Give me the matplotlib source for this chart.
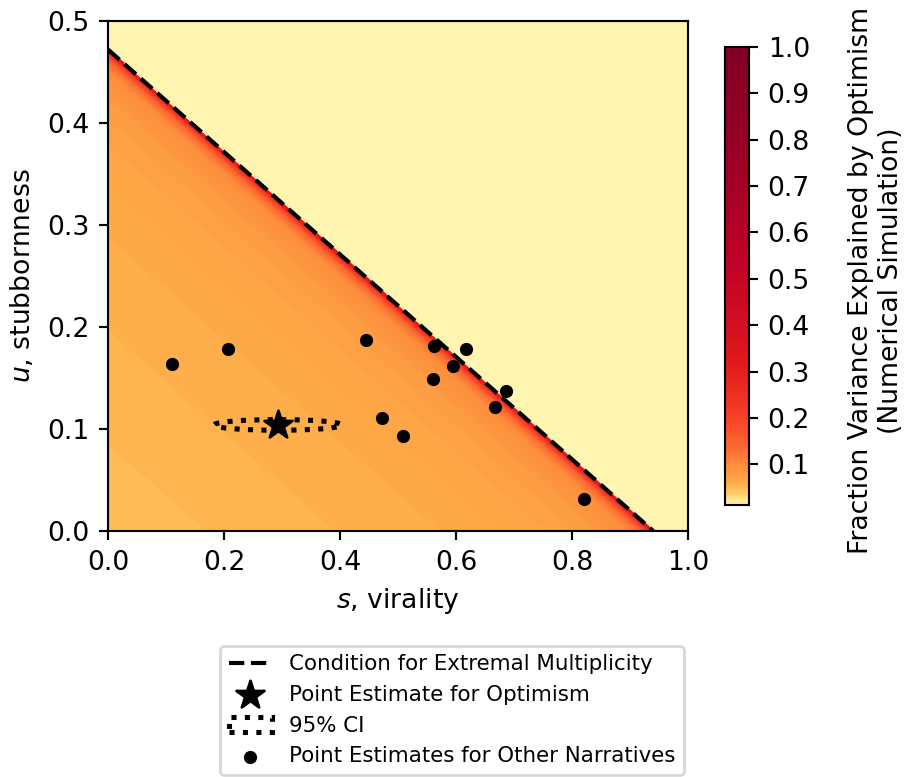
import numpy as np
import matplotlib
matplotlib.use("Agg")
import matplotlib.pyplot as plt
from matplotlib import colors
from matplotlib.patches import Ellipse

# dashed boundary (condition for extremal multiplicity)
s_intercept = 0.94
u_intercept = 0.472

# point estimate for Optimism and its 95% CI ellipse
opt_s = 0.293
opt_u = 0.104
ci_width = 0.220
ci_height = 0.0105

# point estimates for the other narratives
other_s = [0.111, 0.207, 0.445, 0.562, 0.617, 0.595, 0.560, 0.687, 0.667, 0.472, 0.509, 0.821]
other_u = [0.164, 0.178, 0.187, 0.181, 0.178, 0.162, 0.149, 0.137, 0.122, 0.111, 0.093, 0.031]

# simulated fraction of variance vs. vertical distance below the boundary
dist_knots = [0.0, 0.004, 0.01, 0.02, 0.05, 0.1, 0.2, 0.47]
frac_knots = [0.35, 0.22, 0.14, 0.10, 0.08, 0.07, 0.06, 0.048]
frac_above = 0.013

cbar_ticks = [0.1, 0.2, 0.3, 0.4, 0.5, 0.6, 0.7, 0.8, 0.9, 1.0]

DPI = 192


def build_field():
    s = np.linspace(0, 1, 500)
    u = np.linspace(0, 0.5, 500)
    S, U = np.meshgrid(s, u)
    dist = u_intercept * (1 - S / s_intercept) - U
    Z = np.where(dist >= 0, np.interp(dist, dist_knots, frac_knots), frac_above)
    return S, U, Z


def main():
    fig = plt.figure(figsize=(904 / DPI, 777 / DPI), dpi=DPI)
    ax = fig.add_axes([0.1195, 0.3166, 0.6416, 0.6564])
    cax = fig.add_axes([0.802, 0.350, 0.0265, 0.5895])

    S, U, Z = build_field()
    norm = colors.FuncNorm((np.log10, lambda y: 10 ** y), vmin=0.01, vmax=1.0)
    levels = np.linspace(0.012, 1.0, 200)
    cf = ax.contourf(S, U, Z, levels=levels, cmap="YlOrRd", norm=norm)

    s_line = np.array([0.0, s_intercept])
    ax.plot(s_line, u_intercept * (1 - s_line / s_intercept), "k--", lw=1.55,
            label="Condition for Extremal Multiplicity")
    ax.scatter([opt_s], [opt_u], marker="*", s=122, color="k", zorder=4,
               label="Point Estimate for Optimism")
    ci = Ellipse((opt_s, opt_u), ci_width, ci_height, fill=False, ec="k",
                 lw=1.9, ls=":", zorder=4, label="95% CI")
    ax.add_patch(ci)
    ax.scatter(other_s, other_u, s=15.5, color="k", zorder=4,
               label="Point Estimates for Other Narratives")

    ax.set_xlim(0, 1)
    ax.set_ylim(0, 0.5)
    ax.set_xlabel("$s$, virality")
    ax.set_ylabel("$u$, stubbornness")

    cbar = fig.colorbar(cf, cax=cax, ticks=cbar_ticks)
    cbar.ax.set_yticklabels([f"{t:.1f}" for t in cbar_ticks])
    cbar.set_label("Fraction Variance Explained by Optimism\n(Numerical Simulation)")
    cbar.ax.yaxis.set_label_coords(5.12, 0.49)

    handles, labels = ax.get_legend_handles_labels()
    order = [labels.index(l) for l in ["Condition for Extremal Multiplicity",
                                       "Point Estimate for Optimism", "95% CI",
                                       "Point Estimates for Other Narratives"]]
    fig.legend([handles[i] for i in order], [labels[i] for i in order],
               loc="lower center", bbox_to_anchor=(0.5, 0.0), fontsize=8,
               labelspacing=0.5, borderaxespad=0.1)

    fig.savefig("out.png", dpi=DPI)


if __name__ == "__main__":
    main()
